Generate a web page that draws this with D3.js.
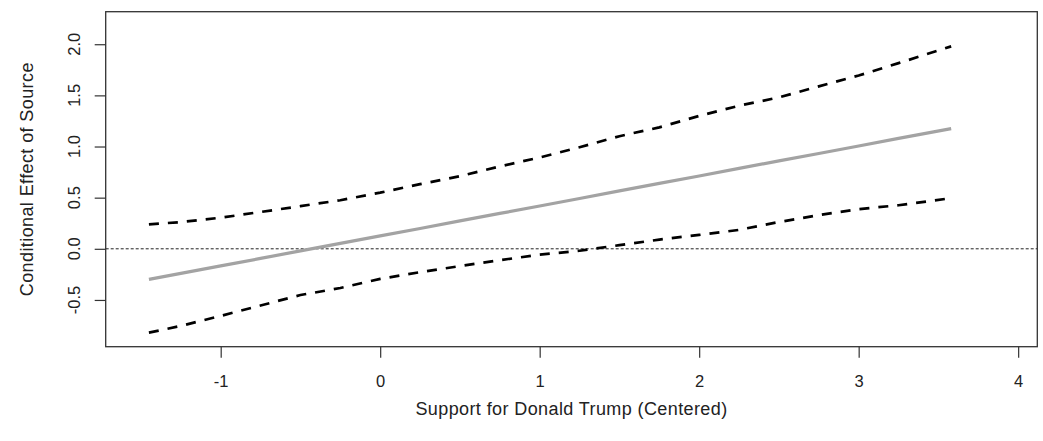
<!DOCTYPE html>
<html>
<head>
<meta charset="utf-8">
<script src="https://cdn.jsdelivr.net/npm/d3@7"></script>
<style>
  html, body { margin: 0; padding: 0; background: #fff; }
  svg { display: block; }
  text { font-family: "Liberation Sans", Arial, sans-serif; fill: #222; }
</style>
</head>
<body>
<svg id="chart" width="1043" height="441"></svg>
<script>
// Moderator values (Support for Donald Trump, centered)
const moderator = [-1.45, -1.25, -1.0, -0.75, -0.5, -0.25, 0, 0.25, 0.5, 0.75, 1.0,
                   1.25, 1.5, 1.75, 2.0, 2.25, 2.5, 2.75, 3.0, 3.25, 3.58];
// Conditional effect of source at each moderator value
const effect = [-0.299, -0.240, -0.167, -0.094, -0.020, 0.053, 0.126, 0.199, 0.273, 0.346, 0.419,
                0.492, 0.566, 0.639, 0.712, 0.786, 0.859, 0.932, 1.005, 1.079, 1.175];
// Upper and lower 95% confidence bounds
const upperCI = [0.239, 0.261, 0.304, 0.360, 0.417, 0.475, 0.549, 0.632, 0.710, 0.805, 0.893,
                 0.993, 1.101, 1.187, 1.299, 1.399, 1.480, 1.588, 1.694, 1.815, 1.979];
const lowerCI = [-0.820, -0.754, -0.656, -0.554, -0.452, -0.383, -0.294, -0.228, -0.169, -0.111, -0.057,
                 -0.019, 0.036, 0.090, 0.136, 0.185, 0.262, 0.329, 0.388, 0.426, 0.495];

const xTicks = [-1, 0, 1, 2, 3, 4];
const xTickLabels = ["-1", "0", "1", "2", "3", "4"];
const yTicks = [-0.5, 0, 0.5, 1.0, 1.5, 2.0];
const yTickLabels = ["-0.5", "0.0", "0.5", "1.0", "1.5", "2.0"];

const xTitle = "Support for Donald Trump (Centered)";
const yTitle = "Conditional Effect of Source";

const svg = d3.select("#chart");
const plot = { left: 105.7, right: 1037.3, top: 11.7, bottom: 346.7 };

const x = d3.scaleLinear().domain([-1.721, 4.120]).range([plot.left, plot.right]);
const y = d3.scaleLinear().domain([-0.957, 2.318]).range([plot.bottom, plot.top]);

const tickFont = 16.5;
const titleFont = 18;

// horizontal reference line at zero
svg.append("line")
  .attr("x1", plot.left).attr("x2", plot.right)
  .attr("y1", y(0)).attr("y2", y(0))
  .attr("stroke", "#222").attr("stroke-width", 1)
  .attr("stroke-dasharray", "3,2");

const line = (vals) => d3.line()
  .x((d, i) => x(moderator[i]))
  .y(d => y(d))(vals);

// conditional effect
svg.append("path")
  .attr("d", line(effect))
  .attr("fill", "none")
  .attr("stroke", "#a3a3a3")
  .attr("stroke-width", 3.2);

// confidence bands
[upperCI, lowerCI].forEach(band => {
  svg.append("path")
    .attr("d", line(band))
    .attr("fill", "none")
    .attr("stroke", "#000")
    .attr("stroke-width", 2.7)
    .attr("stroke-dasharray", "10,9");
});

// plot frame
svg.append("rect")
  .attr("x", plot.left).attr("y", plot.top)
  .attr("width", plot.right - plot.left).attr("height", plot.bottom - plot.top)
  .attr("fill", "none").attr("stroke", "#333").attr("stroke-width", 1.3);

// x axis
const xAxis = svg.append("g")
  .attr("transform", `translate(0,${plot.bottom})`)
  .call(d3.axisBottom(x).tickValues(xTicks)
    .tickFormat((d, i) => xTickLabels[i])
    .tickSize(11).tickPadding(18));
xAxis.select(".domain").remove();
xAxis.selectAll(".tick line").attr("stroke", "#333").attr("stroke-width", 1.2);
xAxis.selectAll(".tick text")
  .style("font-family", '"Liberation Sans", Arial, sans-serif')
  .style("font-size", tickFont + "px").attr("fill", "#222");

// y axis: ticks, with labels parallel to the axis
const yAxis = svg.append("g")
  .attr("transform", `translate(${plot.left},0)`)
  .call(d3.axisLeft(y).tickValues(yTicks).tickFormat("").tickSize(11));
yAxis.select(".domain").remove();
yAxis.selectAll(".tick line").attr("stroke", "#333").attr("stroke-width", 1.2);

svg.append("g").selectAll("text")
  .data(yTicks)
  .join("text")
  .attr("x", 80).attr("y", d => y(d))
  .attr("transform", d => `rotate(-90, 80, ${y(d)})`)
  .attr("text-anchor", "middle")
  .style("font-size", tickFont + "px")
  .text((d, i) => yTickLabels[i]);

// axis titles
svg.append("text")
  .attr("x", (plot.left + plot.right) / 2).attr("y", 415)
  .attr("text-anchor", "middle")
  .style("font-size", titleFont + "px")
  .style("letter-spacing", "0.4px")
  .text(xTitle);

const yMid = (plot.top + plot.bottom) / 2;
svg.append("text")
  .attr("x", 33).attr("y", yMid)
  .attr("transform", `rotate(-90, 33, ${yMid})`)
  .attr("text-anchor", "middle")
  .style("font-size", titleFont + "px")
  .style("letter-spacing", "0.4px")
  .text(yTitle);
</script>
</body>
</html>
